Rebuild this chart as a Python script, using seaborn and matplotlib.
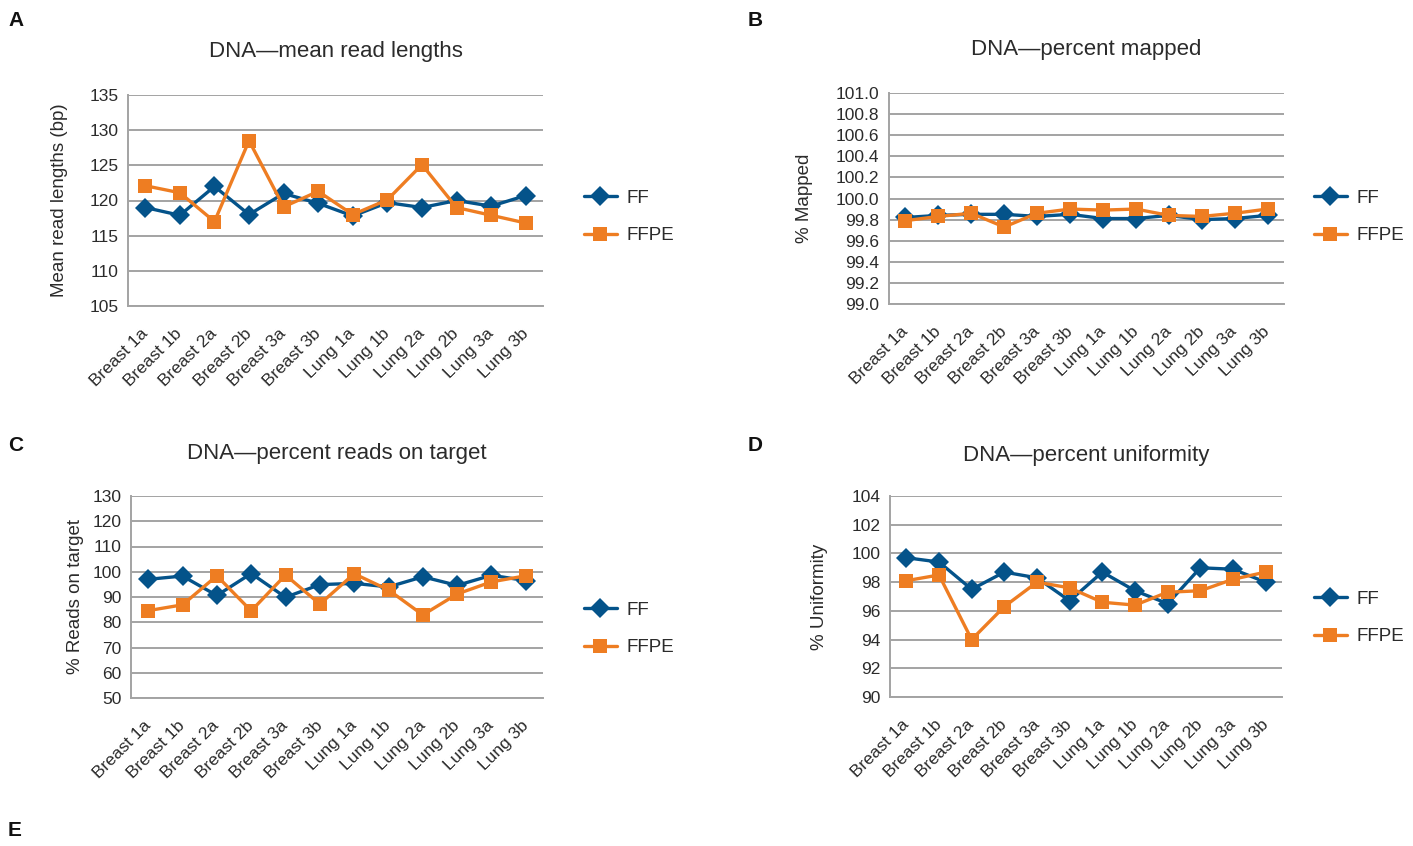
import numpy as np
import pandas as pd
import matplotlib
matplotlib.use("Agg")
import matplotlib.pyplot as plt
import seaborn as sns
from matplotlib.lines import Line2D

samples = ["Breast 1a", "Breast 1b", "Breast 2a", "Breast 2b", "Breast 3a", "Breast 3b",
           "Lung 1a", "Lung 1b", "Lung 2a", "Lung 2b", "Lung 3a", "Lung 3b"]

read_len_ff = [119.0, 117.9, 122.0, 118.0, 121.0, 119.6, 117.8, 119.7, 119.0, 120.0, 119.2, 120.7]
read_len_ffpe = [122.1, 121.1, 117.0, 128.5, 119.1, 121.3, 118.0, 120.1, 125.1, 119.0, 117.9, 116.8]

mapped_ff = [99.82, 99.84, 99.85, 99.85, 99.83, 99.85, 99.81, 99.81, 99.84, 99.80, 99.81, 99.84]
mapped_ffpe = [99.79, 99.83, 99.86, 99.73, 99.86, 99.90, 99.89, 99.90, 99.84, 99.83, 99.86, 99.90]

on_target_ff = [97.0, 98.3, 90.6, 99.3, 89.9, 94.9, 95.4, 94.0, 98.0, 94.6, 98.6, 96.5]
on_target_ffpe = [84.6, 86.9, 98.4, 84.5, 98.7, 87.2, 99.2, 92.8, 82.9, 91.2, 96.0, 98.4]

uniform_ff = [99.7, 99.4, 97.5, 98.7, 98.3, 96.7, 98.7, 97.4, 96.5, 99.0, 98.9, 98.0]
uniform_ffpe = [98.1, 98.5, 94.0, 96.3, 98.0, 97.6, 96.6, 96.4, 97.3, 97.4, 98.2, 98.7]

series_names = ["FF", "FFPE"]
colors = {"FF": "#04538a", "FFPE": "#ee7d22"}
markers = {"FF": "D", "FFPE": "s"}

panels = [
    dict(letter="A", title="DNA\u2014mean read lengths", ylabel="Mean read lengths (bp)",
         ff=read_len_ff, ffpe=read_len_ffpe, ticks=np.arange(105, 136, 5), fmt="{:.0f}",
         rect=[128, 95, 543, 306], leg=(576, 217), ylab_x=60, title_y=52, letter_xy=(8, 20)),
    dict(letter="B", title="DNA\u2014percent mapped", ylabel="% Mapped",
         ff=mapped_ff, ffpe=mapped_ffpe, ticks=np.round(np.arange(99.0, 101.01, 0.2), 1), fmt="{:.1f}",
         rect=[889, 93, 1284, 304], leg=(1306, 217), ylab_x=805, title_y=50, letter_xy=(748, 20)),
    dict(letter="C", title="DNA\u2014percent reads on target", ylabel="% Reads on target",
         ff=on_target_ff, ffpe=on_target_ffpe, ticks=np.arange(50, 131, 10), fmt="{:.0f}",
         rect=[131, 496, 543, 698], leg=(576, 629), ylab_x=75, title_y=453, letter_xy=(8, 445)),
    dict(letter="D", title="DNA\u2014percent uniformity", ylabel="% Uniformity",
         ff=uniform_ff, ffpe=uniform_ffpe, ticks=np.arange(90, 105, 2), fmt="{:.0f}",
         rect=[890, 496, 1282, 697], leg=(1306, 618), ylab_x=820, title_y=455, letter_xy=(748, 445)),
]

sns.set_theme(style="white")
plt.rcParams["font.family"] = ["Liberation Sans", "DejaVu Sans"]
text_color = "#2b2b2b"
grid_color = "#a3a3a3"

W, H = 1413, 846
fig = plt.figure(figsize=(W / 100, H / 100), dpi=100)

for p in panels:
    l, t, r, b = p["rect"]
    ax = fig.add_axes([l / W, 1 - b / H, (r - l) / W, (b - t) / H])
    df = pd.DataFrame({
        "x": list(range(len(samples))) * 2,
        "value": list(p["ff"]) + list(p["ffpe"]),
        "type": ["FF"] * len(samples) + ["FFPE"] * len(samples),
    })
    for name in series_names:
        sub = df[df["type"] == name]
        sns.lineplot(data=sub, x="x", y="value", ax=ax, color=colors[name],
                     marker=markers[name], markersize=10 if name == "FF" else 10.5,
                     markeredgewidth=0, linewidth=2.4, legend=False, zorder=3 if name == "FFPE" else 2)
    ax.set_xlim(-0.5, len(samples) - 0.5)
    ax.set_ylim(p["ticks"][0], p["ticks"][-1])
    ax.set_yticks(p["ticks"])
    ax.set_yticklabels([p["fmt"].format(v) for v in p["ticks"]], fontsize=12.5, color=text_color)
    ax.set_xticks(range(len(samples)))
    ax.set_xticklabels(samples, rotation=45, ha="right", va="center", rotation_mode="anchor",
                       fontsize=12.5, color=text_color)
    ax.tick_params(axis="x", length=0, pad=18)
    ax.tick_params(axis="y", length=0, pad=7)
    ax.set_xlabel("")
    ax.set_ylabel("")
    ax.grid(axis="y", color=grid_color, linewidth=1.4)
    ax.grid(axis="x", visible=False)
    ax.set_axisbelow(True)
    for s in ["top", "right"]:
        ax.spines[s].set_visible(False)
    for s in ["left", "bottom"]:
        ax.spines[s].set_color(grid_color)
        ax.spines[s].set_linewidth(1.4)
    fig.text((l + r) / 2 / W, 1 - p["title_y"] / H, p["title"], ha="center", va="center",
             fontsize=16, color=text_color)
    fig.text(p["ylab_x"] / W, 1 - (t + b) / 2 / H, p["ylabel"], rotation=90, ha="center",
             va="center", fontsize=13.5, color=text_color)
    fig.text(p["letter_xy"][0] / W, 1 - p["letter_xy"][1] / H, p["letter"], ha="left",
             va="center", fontsize=15, fontweight="bold", color="#111111")
    handles = [Line2D([0], [0], color=colors[n], marker=markers[n], markersize=10 if n == "FF" else 10.5,
                      markeredgewidth=0, linewidth=2.4) for n in series_names]
    lx, ly = p["leg"]
    leg = fig.legend(handles, series_names, loc="center left",
                     bbox_to_anchor=(lx / W, 1 - ly / H), frameon=False, fontsize=13.5,
                     handlelength=1.8, labelspacing=1.1, handletextpad=0.5, borderaxespad=0)
    for txt in leg.get_texts():
        txt.set_color(text_color)

fig.text(8 / W, 1 - 830 / H, "E", ha="left", va="center", fontsize=15, fontweight="bold", color="#111111")

fig.savefig("out.png", dpi=100)
